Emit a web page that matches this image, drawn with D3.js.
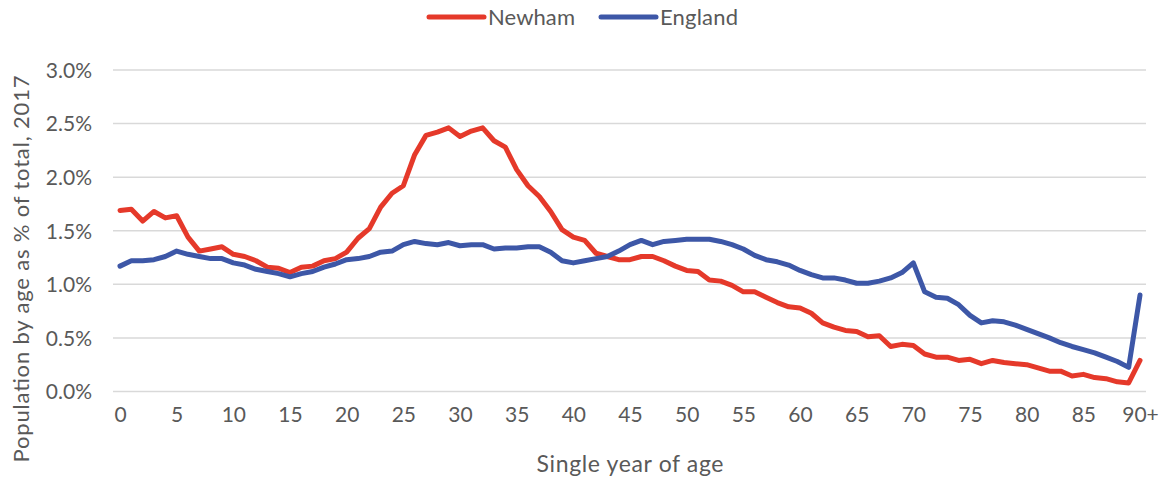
<!DOCTYPE html>
<html>
<head>
<meta charset="utf-8">
<script src="https://cdn.jsdelivr.net/npm/d3@7"></script>
<style>
  html, body { margin: 0; padding: 0; background: #fff; }
  svg { display: block; }
  text { font-family: Lato, "Open Sans", sans-serif; fill: #595959; }
</style>
</head>
<body>
<svg id="chart" width="1162" height="480"></svg>
<script>
const ages = d3.range(0, 91);
const xTickLabels = ["0","5","10","15","20","25","30","35","40","45","50","55","60","65","70","75","80","85","90+"];
const yTicks = [0, 0.5, 1.0, 1.5, 2.0, 2.5, 3.0];
const seriesNames = ["Newham", "England"];
const seriesColors = ["#E5392A", "#3D57A7"];

const newham = [
  1.69, 1.70, 1.59, 1.68, 1.62, 1.64, 1.44, 1.31, 1.33, 1.35,
  1.28, 1.26, 1.22, 1.16, 1.15, 1.11, 1.16, 1.17, 1.22, 1.24,
  1.30, 1.43, 1.52, 1.72, 1.85, 1.92, 2.21, 2.39, 2.42, 2.46,
  2.38, 2.43, 2.46, 2.34, 2.28, 2.07, 1.92, 1.82, 1.68, 1.51,
  1.44, 1.41, 1.29, 1.26, 1.23, 1.23, 1.26, 1.26, 1.22, 1.17,
  1.13, 1.12, 1.04, 1.03, 0.99, 0.93, 0.93, 0.88, 0.83, 0.79,
  0.78, 0.73, 0.64, 0.60, 0.57, 0.56, 0.51, 0.52, 0.42, 0.44,
  0.43, 0.35, 0.32, 0.32, 0.29, 0.30, 0.26, 0.29, 0.27, 0.26,
  0.25, 0.22, 0.19, 0.19, 0.145, 0.16, 0.13, 0.12, 0.09, 0.08,
  0.29
];
const england = [
  1.17, 1.22, 1.22, 1.23, 1.26, 1.31, 1.28, 1.26, 1.24, 1.24,
  1.20, 1.18, 1.14, 1.12, 1.10, 1.07, 1.10, 1.12, 1.16, 1.19,
  1.23, 1.24, 1.26, 1.30, 1.31, 1.37, 1.40, 1.38, 1.37, 1.39,
  1.36, 1.37, 1.37, 1.33, 1.34, 1.34, 1.35, 1.35, 1.30, 1.22,
  1.20, 1.22, 1.24, 1.26, 1.31, 1.37, 1.41, 1.37, 1.40, 1.41,
  1.42, 1.42, 1.42, 1.40, 1.37, 1.33, 1.27, 1.23, 1.21, 1.18,
  1.13, 1.09, 1.06, 1.06, 1.04, 1.01, 1.01, 1.03, 1.06, 1.11,
  1.20, 0.93, 0.88, 0.87, 0.81, 0.71, 0.64, 0.66, 0.65, 0.62,
  0.58, 0.54, 0.50, 0.455, 0.42, 0.39, 0.36, 0.32, 0.28, 0.225,
  0.90
];

const svg = d3.select("#chart");
const x = d3.scaleLinear().domain([0, 90]).range([120, 1140]);
const y = d3.scaleLinear().domain([0, 3.0]).range([391.5, 70]);

// gridlines
svg.append("g").selectAll("line").data(yTicks).join("line")
  .attr("x1", 113).attr("x2", 1146)
  .attr("y1", d => y(d)).attr("y2", d => y(d))
  .attr("stroke", "#D9D9D9").attr("stroke-width", 1.5);

// y axis labels
const yAxis = d3.axisLeft(y).tickValues(yTicks).tickFormat(d => d.toFixed(1) + "%").tickSize(0).tickPadding(0);
const gy = svg.append("g").attr("transform", "translate(92,0)").call(yAxis);
gy.select(".domain").remove();
gy.selectAll("text").style("font-size", "21px").style("font-family", "Lato, sans-serif")
  .attr("fill", "#595959").attr("dy", "0.35em");

// x axis labels
const xAxis = d3.axisBottom(x).tickValues(d3.range(0, 91, 5)).tickFormat((d, i) => xTickLabels[i]).tickSize(0).tickPadding(0);
const gx = svg.append("g").attr("transform", "translate(0,415)").call(xAxis);
gx.select(".domain").remove();
gx.selectAll("text").style("font-size", "21px").style("font-family", "Lato, sans-serif")
  .attr("fill", "#595959").attr("dy", "0.35em");

// axis titles
svg.append("text").attr("x", 630).attr("y", 472).attr("text-anchor", "middle")
  .style("font-size", "23px").attr("textLength", 187).attr("lengthAdjust", "spacing")
  .text("Single year of age");
svg.append("text").attr("transform", "translate(29,269) rotate(-90)").attr("text-anchor", "middle")
  .style("font-size", "22px")
  .attr("textLength", 387).attr("lengthAdjust", "spacing")
  .text("Population by age as % of total, 2017");

// lines
const line = d3.line().x((d, i) => x(ages[i])).y(d => y(d));
[newham, england].forEach((s, k) => {
  svg.append("path").datum(s).attr("d", line)
    .attr("fill", "none").attr("stroke", seriesColors[k])
    .attr("stroke-width", 5).attr("stroke-linejoin", "round").attr("stroke-linecap", "round");
});

// legend
const legendX = [429, 601];
const legendTextLen = [87, 78];
seriesNames.forEach((n, k) => {
  svg.append("line").attr("x1", legendX[k]).attr("x2", legendX[k] + 55)
    .attr("y1", 17).attr("y2", 17)
    .attr("stroke", seriesColors[k]).attr("stroke-width", 5).attr("stroke-linecap", "round");
  svg.append("text").attr("x", legendX[k] + 59).attr("y", 17).attr("dy", "0.35em")
    .style("font-size", "22px").attr("textLength", legendTextLen[k]).attr("lengthAdjust", "spacing")
    .text(n);
});
</script>
</body>
</html>
